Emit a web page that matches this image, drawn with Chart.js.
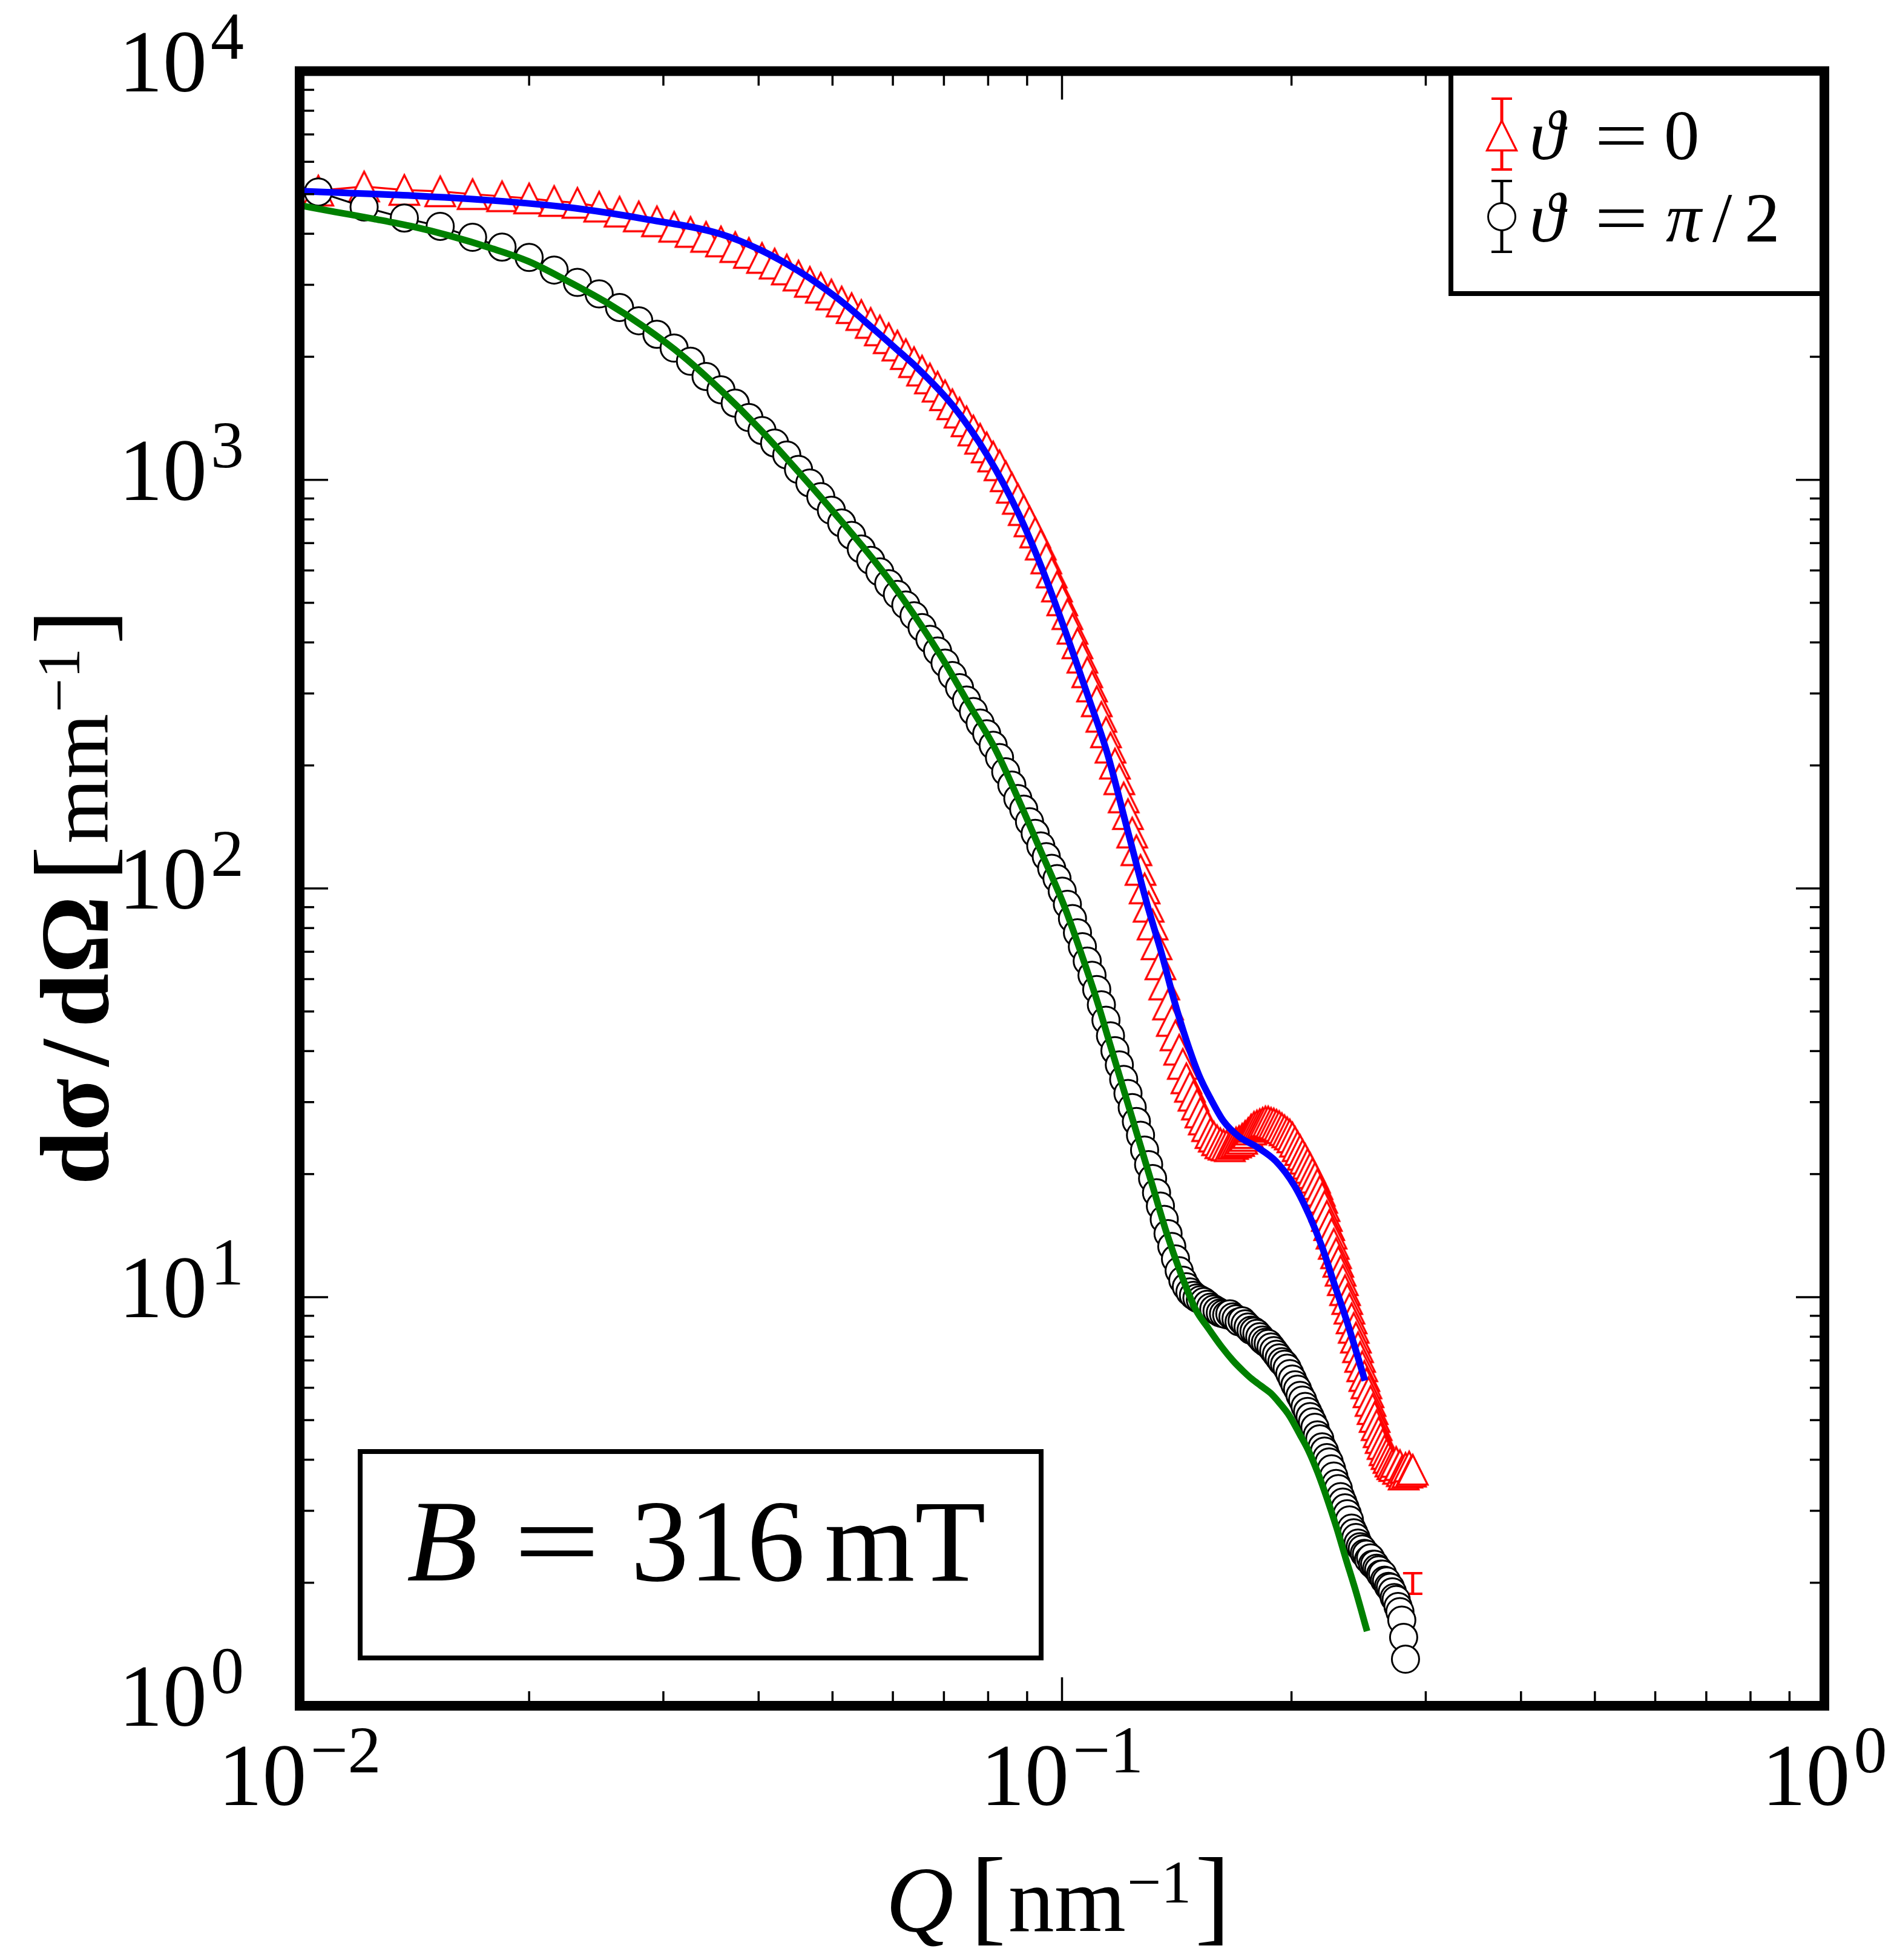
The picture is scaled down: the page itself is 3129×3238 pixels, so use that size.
<!DOCTYPE html>
<html>
<head>
<meta charset="utf-8">
<title>dσ/dΩ versus Q, B = 316 mT</title>
<script src="https://cdn.jsdelivr.net/npm/chart.js@4.4.1/dist/chart.umd.min.js"></script>
<style>
html, body { margin:0; padding:0; background:#ffffff; }
canvas { display:block; }
</style>
</head>
<body>
<canvas id="chart" width="3129" height="3238"></canvas>
<script>
// ---------------- data ----------------
const Q = [0.01058,0.01215,0.01372,0.01529,0.01686,0.01843,0.02000,0.02157,0.02314,0.02471,
0.02628,0.02785,0.02942,0.03099,0.03256,0.03413,0.03570,0.03727,0.03884,0.04041,
0.04198,0.04355,0.04512,0.04669,0.04826,0.04983,0.05140,0.05297,0.05454,0.05611,
0.05768,0.05925,0.06082,0.06239,0.06396,0.06553,0.06710,0.06867,0.07024,0.07181,
0.07338,0.07495,0.07652,0.07809,0.07966,0.08123,0.08280,0.08437,0.08594,0.08751,
0.08908,0.09065,0.09222,0.09379,0.09536,0.09693,0.09850,0.10007,0.10164,0.10321,
0.10478,0.10635,0.10792,0.10949,0.11106,0.11263,0.11420,0.11577,0.11734,0.11891,
0.12048,0.12205,0.12362,0.12519,0.12676,0.12833,0.12990,0.13147,0.13304,0.13461,
0.13618,0.13775,0.13932,0.14089,0.14246,0.14403,0.14560,0.14717,0.14874,0.15031,
0.15188,0.15345,0.15502,0.15659,0.15816,0.15973,0.16130,0.16287,0.16444,0.16601,
0.16758,0.16915,0.17072,0.17229,0.17386,0.17543,0.17700,0.17857,0.18014,0.18171,
0.18328,0.18485,0.18642,0.18799,0.18956,0.19113,0.19270,0.19427,0.19584,0.19741,
0.19898,0.20055,0.20212,0.20369,0.20526,0.20683,0.20840,0.20997,0.21154,0.21311,
0.21468,0.21625,0.21782,0.21939,0.22096,0.22253,0.22410,0.22567,0.22724,0.22881,
0.23038,0.23195,0.23352,0.23509,0.23666,0.23823,0.23980,0.24137,0.24294,0.24451,
0.24608,0.24765,0.24922,0.25079,0.25236,0.25393,0.25550,0.25707,0.25864,0.26021,
0.26178,0.26335,0.26492,0.26649,0.26806,0.26963,0.27120,0.27277,0.27434,0.27591,
0.27748,0.27905,0.28062,0.28219,0.28376,0.28533,0.28690,0.28847];

// theta = 0 (red triangles)
const I_theta0 = [5100,5220,5120,5080,5000,4940,4880,4810,4760,4660,
4530,4410,4290,4160,4040,3930,3830,3710,3590,3490,
3380,3270,3160,3050,2950,2840,2730,2630,2530,2420,
2320,2220,2130,2030,1940,1850,1770,1690,1610,1530,
1460,1390,1320,1260,1200,1140,1085,1020,956,898,
843,791,743,694,642,593,548,507,469,432,
398,367,338,312,287,263,241,221,202,185,
167,152,137,124,111,100,90.2,81.6,73.0,65.2,
58.2,52.0,47.4,43.7,40.3,37.2,34.3,32.7,31.1,29.6,
28.3,27.2,26.2,25.2,24.7,24.2,23.8,23.6,23.5,23.4,
23.7,23.9,24.1,24.4,24.8,25.2,25.7,26.1,26.3,26.5,
26.7,26.9,26.9,26.7,26.6,26.4,26.2,25.9,25.6,25.3,
25.0,24.6,24.0,23.4,22.9,22.3,21.8,21.2,20.7,20.1,
19.6,18.9,18.2,17.5,16.7,15.8,15.0,14.3,13.5,12.8,
12.2,11.6,11.0,10.4,9.89,9.37,8.87,8.41,7.96,7.54,
7.14,6.77,6.41,6.15,5.85,5.57,5.32,5.09,4.86,4.67,
4.52,4.37,4.22,4.13,4.04,3.96,3.90,3.86,3.95,3.80,
3.88,3.75,3.68,3.82,3.72,3.85,3.74,3.78];

// theta = pi/2 (black circles), same Q grid, fewer points
const I_thetaPi2 = [5060,4650,4370,4170,3920,3710,3500,3260,3040,2850,
2640,2450,2270,2100,1950,1790,1660,1540,1420,1320,
1230,1150,1060,982,909,842,784,731,677,635,
595,557,524,494,465,435,407,381,356,332,
310,289,271,254,239,224,209,193,179,166,
156.3,145.7,136.4,127.1,119.6,112.0,105.7,98.5,91.4,84.4,
77.9,72.0,66.4,61.3,56.6,51.9,47.6,43.6,40.1,37.0,
34.1,31.5,29.1,26.9,24.9,22.9,21.1,19.5,18.0,16.7,
15.5,14.3,13.3,12.4,11.6,11.0,10.6,10.3,10.1,9.95,
9.85,9.75,9.6,9.45,9.35,9.25,9.15,9.1,9.05,9.1,
8.95,8.85,8.7,8.75,8.6,8.45,8.3,8.25,8.15,8.0,
7.85,7.75,7.7,7.55,7.4,7.25,7.1,6.95,6.85,6.7,
6.5,6.3,6.1,5.95,5.75,5.6,5.4,5.25,5.1,4.95,
4.8,4.6,4.5,4.3,4.2,4.05,3.95,3.8,3.65,3.5,
3.4,3.25,3.15,3.05,2.95,2.85,2.72,2.65,2.58,2.5,
2.45,2.42,2.36,2.35,2.28,2.3,2.22,2.22,2.17,2.15,
2.1,2.1,2.03,2.02,1.96,1.95,1.9,1.84,1.82,1.75,
1.7,1.62,1.47,1.30];

// isolated red error bar at the end of the theta = 0 data (marker not visible)
const errQ = [0.2884];
const errLow = [1.88];
const errHigh = [2.11];

// model curves
const fit0Q = [0.0100,0.01113,0.01406,0.01775,0.02241,0.0283,0.03573,0.04015,0.04511,0.05069,
0.05695,0.06166,0.0640,0.0719,0.07986,0.0877,0.09406,0.10082,0.10806,0.11467,
0.12151,0.1292,0.13519,0.14032,0.14565,0.15117,0.1569,0.16286,0.17066,0.18048,
0.19082,0.20187,0.2115,0.21953,0.22784,0.23654,0.24894];
const fit0I = [5089,5047,4959,4830,4645,4350,3990,3656,3243,2786,
2316,2032,1910,1519,1145,826,609,430,297,214,
142,92,69.0,53.2,42.4,35.0,30.4,26.96,24.7,23.25,
21.5,18.7,15.7,13.2,10.7,8.70,6.36];

const fitPi2Q = [0.0100,0.01113,0.01251,0.01406,0.01580,0.01775,0.01995,0.02241,0.02518,0.02830,
0.03180,0.03573,0.04015,0.04511,0.05069,0.05695,0.06166,0.06944,0.07535,0.08178,
0.08769,0.09404,0.10086,0.10606,0.11112,0.1159,0.12088,0.12605,0.13146,0.13709,
0.14298,0.14977,0.1555,0.1620,0.1677,0.1730,0.1775,0.1825,0.1878,0.1930,
0.1988,0.2050,0.2104,0.2165,0.2226,0.2290,0.2355,0.2430,0.2506];
const fitPi2I = [4694,4524,4350,4167,3946,3697,3425,3072,2726,2367,
2010,1653,1330,1046,815,628,516,369,284,219,
165,122,89.8,69.0,53.2,40.9,31.5,24.3,18.7,14.4,
11.5,9.32,8.40,7.55,6.98,6.58,6.30,6.06,5.82,5.50,
5.12,4.62,4.22,3.72,3.22,2.74,2.30,1.90,1.55];

// axes
const xMajorTicks = [0.01, 0.1, 1];
const xTickExp = ['\u22122', '\u22121', '0'];
const yMajorTicks = [1, 10, 100, 1000, 10000];
const yTickExp = ['0', '1', '2', '3', '4'];
const minorMultipliers = [2, 3, 4, 5, 6, 7, 8, 9];

// ---------------- drawing ----------------
const SERIF = '"Liberation Serif", "Times New Roman", Times, serif';
function fnt(size, style, weight) { return (style || 'normal') + ' ' + (weight || 'normal') + ' ' + size + 'px ' + SERIF; }

function runs(ctx, parts, x, y, align) {
  let total = 0; const w = [];
  parts.forEach(p => { ctx.font = fnt(p.s, p.st, p.w); const ww = ctx.measureText(p.t).width * (p.sx || 1); w.push(ww); total += ww + (p.g || 0); });
  let cx = align === 'center' ? x - total / 2 : (align === 'right' ? x - total : x);
  parts.forEach((p, i) => {
    ctx.save(); ctx.font = fnt(p.s, p.st, p.w); ctx.textBaseline = 'alphabetic'; ctx.textAlign = 'left';
    ctx.translate(cx, y + (p.dy || 0)); if (p.sx) ctx.scale(p.sx, 1);
    ctx.fillText(p.t, 0, 0); ctx.restore();
    cx += w[i] + (p.g || 0);
  });
  return total;
}
function textAt(ctx, t, size, style, x, y, sx) {
  ctx.save(); ctx.font = fnt(size, style); ctx.textBaseline = 'alphabetic'; ctx.textAlign = 'left';
  ctx.translate(x, y); if (sx) ctx.scale(sx, 1); ctx.fillText(t, 0, 0); ctx.restore();
}

function makeTriangle() {
  const c = document.createElement('canvas');
  c.width = 60; c.height = 60;
  const g = c.getContext('2d');
  g.beginPath(); g.moveTo(30, 5.5); g.lineTo(5.5, 54.5); g.lineTo(54.5, 54.5); g.closePath();
  g.fillStyle = '#ffffff'; g.fill();
  g.lineWidth = 3.3; g.strokeStyle = '#ff0000'; g.lineJoin = 'miter'; g.stroke();
  return c;
}
const triImg = makeTriangle();

function line(ctx, x1, y1, x2, y2) { ctx.beginPath(); ctx.moveTo(x1, y1); ctx.lineTo(x2, y2); ctx.stroke(); }

const decor = {
  id: 'decor',
  afterDatasetDraw(chart, args) {
    if (args.index !== 0) return;
    const ctx = chart.ctx, xs = chart.scales.x, ys = chart.scales.y;
    ctx.save(); ctx.strokeStyle = '#ff0000'; ctx.lineCap = 'butt';
    for (let k = 0; k < errQ.length; k++) {
      const x = xs.getPixelForValue(errQ[k]);
      const y1 = ys.getPixelForValue(errLow[k]), y2 = ys.getPixelForValue(errHigh[k]);
      ctx.lineWidth = 5; line(ctx, x, y1, x, y2);
      ctx.lineWidth = 4; line(ctx, x - 16, y1, x + 16, y1); line(ctx, x - 16, y2, x + 16, y2);
    }
    ctx.restore();
  },
  afterDraw(chart) {
    const ctx = chart.ctx, xs = chart.scales.x, ys = chart.scales.y;
    const { left, right, top, bottom } = chart.chartArea;
    ctx.save();
    // ticks (inward, all four sides)
    ctx.strokeStyle = '#000'; ctx.lineWidth = 3.5; ctx.lineCap = 'butt';
    const MAJ = 47, MIN = 24;
    const xt = (v, len) => { const x = xs.getPixelForValue(v); line(ctx, x, bottom, x, bottom - len); line(ctx, x, top, x, top + len); };
    const yt = (v, len) => { const y = ys.getPixelForValue(v); line(ctx, left, y, left + len, y); line(ctx, right, y, right - len, y); };
    xMajorTicks.forEach(v => xt(v, MAJ));
    xMajorTicks.slice(0, -1).forEach(d => minorMultipliers.forEach(m => xt(d * m, MIN)));
    yMajorTicks.forEach(v => yt(v, MAJ));
    yMajorTicks.slice(0, -1).forEach(d => minorMultipliers.forEach(m => yt(d * m, MIN)));
    // frame
    ctx.lineWidth = 16; ctx.lineJoin = 'miter';
    ctx.strokeRect(left, top, right - left, bottom - top);

    // tick labels
    ctx.fillStyle = '#000';
    yMajorTicks.forEach((v, i) => {
      const y = ys.getPixelForValue(v);
      runs(ctx, [{ t: '10', s: 146, g: 6 }, { t: yTickExp[i], s: 110, dy: -54 }], 403, y + 33, 'right');
    });
    xMajorTicks.forEach((v, i) => {
      const x = xs.getPixelForValue(v);
      runs(ctx, [{ t: '10', s: 146, g: 6 }, { t: xTickExp[i], s: 110, dy: -54 }], x, bottom + 164, 'center');
    });

    // axis titles
    runs(ctx, [{ t: 'Q', s: 155, st: 'italic', g: 28 }, { t: '[', s: 175, g: 4 }, { t: 'nm', s: 152, g: 2 },
               { t: '\u22121', s: 100, dy: -47, g: 6 }, { t: ']', s: 175 }], 1748, 3190, 'center');
    ctx.save(); ctx.translate(178, 1482); ctx.rotate(-Math.PI / 2);
    runs(ctx, [{ t: 'd\u03c3', s: 160, w: 'bold', g: 20 }, { t: '/', s: 160, w: 'bold', g: 20 },
               { t: 'd\u03a9', s: 160, w: 'bold', g: 24 },
               { t: '[', s: 175, g: 4 }, { t: 'mm', s: 138, g: 2 },
               { t: '\u22121', s: 100, dy: -47, g: 6 }, { t: ']', s: 175 }], 0, 0, 'center');
    ctx.restore();

    // legend
    ctx.fillStyle = '#fff'; ctx.fillRect(2397, 121, 3010 - 2397, 485 - 121);
    ctx.lineWidth = 8; ctx.strokeStyle = '#000'; ctx.strokeRect(2397, 121, 3010 - 2397, 485 - 121);
    const lx = 2481;
    // red errorbar symbol
    ctx.strokeStyle = '#ff0000'; ctx.lineWidth = 5; line(ctx, lx, 163, lx, 280);
    ctx.lineWidth = 4; line(ctx, lx - 17, 163, lx + 17, 163); line(ctx, lx - 17, 280, lx + 17, 280);
    ctx.drawImage(triImg, lx - 30, 224 - 30);
    // black errorbar symbol
    ctx.strokeStyle = '#000'; ctx.lineWidth = 5; line(ctx, lx, 299, lx, 416);
    ctx.lineWidth = 4; line(ctx, lx - 17, 299, lx + 17, 299); line(ctx, lx - 17, 416, lx + 17, 416);
    ctx.beginPath(); ctx.arc(lx, 358, 22.5, 0, Math.PI * 2); ctx.fillStyle = '#fff'; ctx.fill(); ctx.lineWidth = 3; ctx.stroke();
    ctx.fillStyle = '#000';
    textAt(ctx, '\u03d1', 117, 'italic', 2527, 263);
    textAt(ctx, '=', 117, 'normal', 2634, 263, 1.35);
    textAt(ctx, '0', 117, 'normal', 2749, 263);
    textAt(ctx, '\u03d1', 117, 'italic', 2527, 399);
    textAt(ctx, '=', 117, 'normal', 2634, 399, 1.35);
    textAt(ctx, '\u03c0', 117, 'italic', 2752, 399);
    textAt(ctx, '/', 117, 'normal', 2829, 399);
    textAt(ctx, '2', 117, 'normal', 2882, 399);

    // field annotation box
    ctx.fillStyle = '#fff'; ctx.fillRect(595, 2398, 1125, 341);
    ctx.lineWidth = 8; ctx.strokeStyle = '#000'; ctx.strokeRect(595, 2398, 1125, 341);
    ctx.fillStyle = '#000';
    textAt(ctx, 'B', 192, 'italic', 672, 2611);
    textAt(ctx, '=', 192, 'normal', 848, 2611, 1.33);
    textAt(ctx, '316', 192, 'normal', 1042, 2611);
    textAt(ctx, 'mT', 192, 'normal', 1362, 2611);
    ctx.restore();
  }
};

const ctx = document.getElementById('chart').getContext('2d');
new Chart(ctx, {
  type: 'scatter',
  data: {
    datasets: [
      {
        label: '\u03d1 = 0',
        data: Q.map((q, i) => ({ x: q, y: I_theta0[i] })),
        showLine: true, borderColor: '#ff0000', borderWidth: 3.2, tension: 0,
        pointStyle: triImg, pointRadius: 25, pointHoverRadius: 25,
        order: 4
      },
      {
        label: '\u03d1 = \u03c0/2',
        data: I_thetaPi2.map((v, i) => ({ x: Q[i], y: v })),
        showLine: true, borderColor: '#000000', borderWidth: 3, tension: 0,
        pointStyle: 'circle', pointRadius: 22.5, pointHoverRadius: 22.5,
        pointBorderWidth: 3, pointBorderColor: '#000000', pointBackgroundColor: '#ffffff',
        order: 3
      },
      {
        label: 'fit \u03d1 = 0',
        data: fit0Q.map((q, i) => ({ x: q, y: fit0I[i] })),
        showLine: true, borderColor: '#0000ff', borderWidth: 11, pointRadius: 0, pointHoverRadius: 0,
        cubicInterpolationMode: 'monotone', borderCapStyle: 'square', borderJoinStyle: 'round',
        order: 2
      },
      {
        label: 'fit \u03d1 = \u03c0/2',
        data: fitPi2Q.map((q, i) => ({ x: q, y: fitPi2I[i] })),
        showLine: true, borderColor: '#008000', borderWidth: 11, pointRadius: 0, pointHoverRadius: 0,
        cubicInterpolationMode: 'monotone', borderCapStyle: 'square', borderJoinStyle: 'round',
        order: 1
      }
    ]
  },
  options: {
    responsive: false, animation: false, devicePixelRatio: 1, events: [],
    layout: { autoPadding: false, padding: { left: 495, top: 117.5, right: 115, bottom: 420 } },
    plugins: { legend: { display: false }, tooltip: { enabled: false }, title: { display: false } },
    scales: {
      x: {
        type: 'logarithmic', min: 0.01, max: 1,
        grid: { display: false }, border: { display: false }, ticks: { display: false },
        afterFit(s) { s.height = 0; }
      },
      y: {
        type: 'logarithmic', min: 1, max: 10000,
        grid: { display: false }, border: { display: false }, ticks: { display: false },
        afterFit(s) { s.width = 0; }
      }
    }
  },
  plugins: [decor]
});
</script>
</body>
</html>
